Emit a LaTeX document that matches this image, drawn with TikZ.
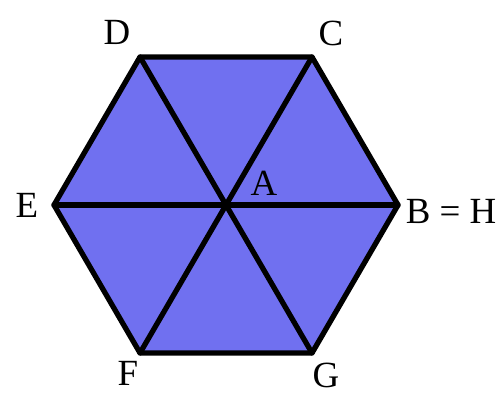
\documentclass[tikz,border=0pt]{standalone}
\usepackage{fontspec}
\setmainfont{Liberation Serif}
\usepackage{tikz}
\usetikzlibrary{positioning,calc}
\definecolor{hexblue}{RGB}{112,112,240}
\tikzset{
  hexfill/.style={fill=hexblue},
  seg/.style={line width=3pt,line join=round,line cap=round,black},
  lbl/.style={font=\fontsize{21}{24}\selectfont,inner sep=0pt},
}
\begin{document}
\begin{tikzpicture}[x=0.02cm,y=-0.02cm]
  \useasboundingbox (0,0) rectangle (499,394);
  % regular hexagon, centre A
  \coordinate (A) at (226,205);
  \coordinate (B) at (398,205);
  \coordinate (C) at (312,57);
  \coordinate (D) at (140,57);
  \coordinate (E) at (54,205);
  \coordinate (F) at (140,353);
  \coordinate (G) at (312,353);
  \fill[hexfill] (B)--(C)--(D)--(E)--(F)--(G)--cycle;
  % diagonals through A
  \draw[seg] (D)--(G);
  \draw[seg] (C)--(F);
  \draw[seg] (E)--(B);
  \draw[seg] (B)--(C)--(D)--(E)--(F)--(G)--cycle;
  % vertex labels
  \node[lbl] (lA) at (264,183) {A};
  \node[lbl] (lB) at (451,211) {B = H};
  \node[lbl] (lC) at (331,33) {C};
  \node[lbl] (lD) at (117,32) {D};
  \node[lbl] (lE) at (27,205) {E};
  \node[lbl] (lF) at (128,373) {F};
  \node[lbl] (lG) at (326,375) {G};
\end{tikzpicture}
\end{document}
